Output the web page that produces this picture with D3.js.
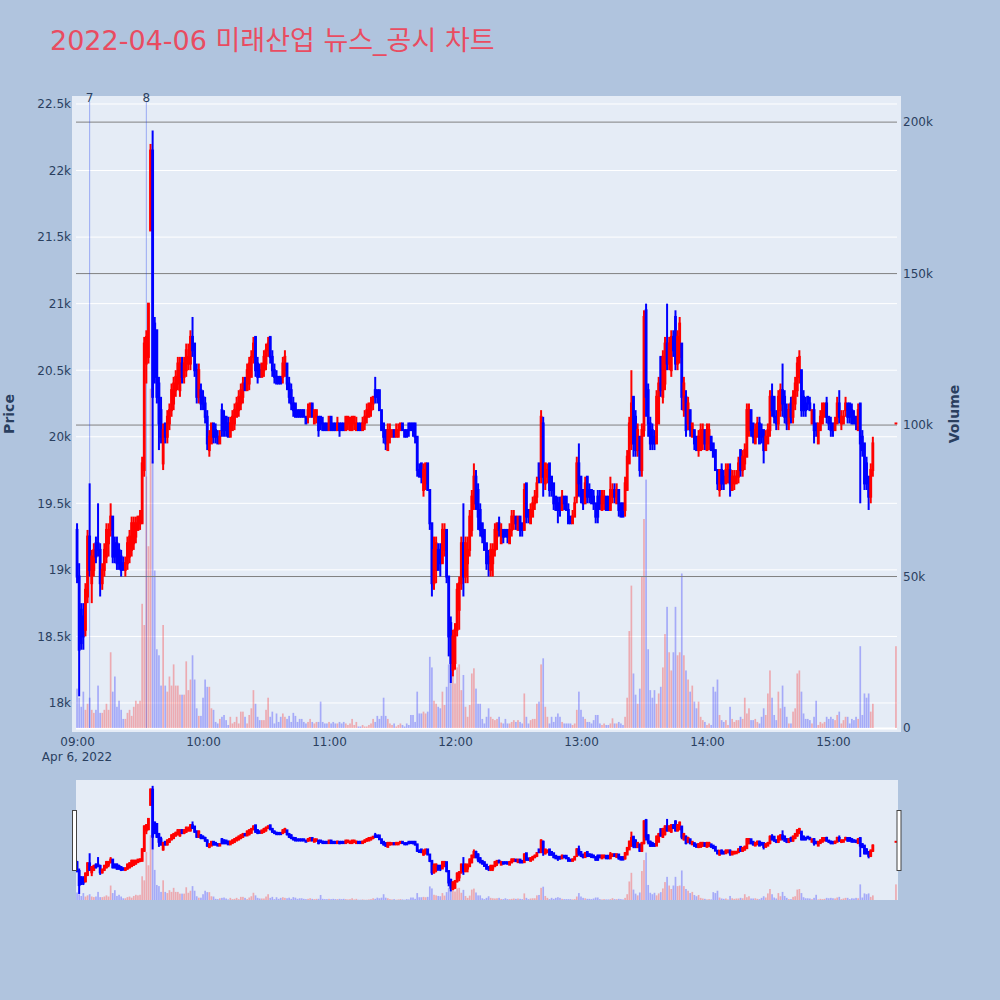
<!DOCTYPE html>
<html><head><meta charset="utf-8">
<script src="https://cdn.jsdelivr.net/npm/d3@7"></script>
<style>
body{margin:0;background:#B0C4DE;}
svg{display:block;font-family:"DejaVu Sans","Noto Sans CJK KR",Verdana,sans-serif;}
</style>
</head><body>
<svg id="chart" width="1000" height="1000"></svg>
<script>
const chartTitle = "2022-04-06 미래산업 뉴스_공시 차트";
// minute offsets from 09:00 (regular session 09:00-15:19, closing auction at 15:30)
const minuteOffsets = d3.range(380).concat([390]);
// [open, high, low, close] per minute
const ohlc = [
[19300,19350,18900,18950],[18950,19050,18050,18400],[18700,18750,18400,18450],[18650,18750,18400,18500],[18550,18900,18500,18850],
[18800,19300,18750,19250],[19250,19650,18950,19000],[18900,19150,18750,19100],[19000,19200,18950,19150],[19200,19250,19050,19100],
[19200,19500,19100,19150],[19150,19200,18800,18900],[18900,19050,18850,19000],[19000,19200,18950,19150],[19100,19350,19050,19300],
[19200,19350,19100,19300],[19300,19500,19250,19400],[19400,19400,19050,19100],[19200,19250,19050,19100],[19200,19250,19000,19050],
[19150,19200,19000,19050],[19100,19150,18950,19000],[19050,19100,19000,19000],[19000,19100,18950,19050],[19050,19250,19000,19200],
[19100,19300,19050,19250],[19150,19400,19100,19350],[19200,19400,19150,19350],[19250,19400,19200,19350],[19300,19400,19300,19400],
[19350,19450,19300,19400],[19350,19850,19350,19800],[19750,20750,19700,20700],[20550,20800,20400,20750],[20600,21000,20550,21000],
[21550,22200,21550,22150],[22150,22300,19800,20300],[20850,20900,20400,20450],[20800,20800,20250,20300],[20400,20450,19900,20100],
[20200,20300,19950,20000],[19800,20100,19750,20050],[20100,20100,19950,20000],[20000,20200,19950,20150],[20100,20250,20050,20200],
[20200,20400,20150,20350],[20250,20450,20200,20400],[20350,20500,20300,20450],[20400,20600,20350,20550],[20350,20600,20300,20550],
[20550,20600,20400,20450],[20450,20600,20400,20550],[20500,20700,20450,20650],[20550,20700,20500,20600],[20550,20800,20500,20750],
[20750,20900,20600,20650],[20700,20700,20450,20500],[20500,20550,20250,20300],[20300,20550,20250,20500],[20350,20400,20200,20250],
[20300,20350,20200,20250],[20250,20300,20100,20150],[20150,20200,19900,19950],[19900,20050,19850,20000],[19950,20100,19950,20100],
[20100,20100,19950,20000],[20050,20100,19950,20000],[20000,20050,19950,19950],[19950,20050,19950,20000],[20200,20250,20000,20050],
[20150,20200,20000,20050],[20150,20150,20000,20050],[20100,20150,20000,20000],[20000,20150,20000,20100],[20050,20200,20050,20150],
[20100,20250,20050,20200],[20150,20300,20150,20250],[20200,20350,20150,20300],[20250,20400,20200,20350],[20300,20450,20250,20400],
[20400,20450,20350,20350],[20350,20550,20350,20500],[20400,20600,20350,20550],[20450,20650,20450,20600],[20600,20750,20550,20700],
[20750,20750,20450,20500],[20550,20600,20400,20450],[20500,20550,20450,20450],[20450,20550,20450,20550],[20500,20650,20450,20600],
[20550,20700,20500,20650],[20650,20750,20600,20700],[20750,20750,20550,20600],[20600,20650,20450,20500],[20500,20550,20400,20450],
[20450,20500,20400,20400],[20450,20450,20400,20400],[20450,20450,20400,20400],[20450,20600,20400,20550],[20500,20650,20450,20600],
[20550,20550,20350,20400],[20400,20450,20250,20300],[20350,20400,20200,20250],[20250,20300,20150,20200],[20250,20250,20150,20150],
[20200,20200,20150,20150],[20200,20200,20150,20150],[20200,20200,20150,20150],[20200,20200,20150,20150],[20150,20150,20100,20100],
[20150,20250,20100,20200],[20150,20250,20150,20250],[20250,20250,20150,20150],[20100,20200,20100,20200],[20150,20200,20100,20200],
[20150,20150,20000,20050],[20150,20150,20050,20100],[20100,20150,20050,20050],[20100,20100,20050,20050],[20100,20100,20050,20050],
[20050,20150,20050,20150],[20150,20150,20050,20050],[20100,20100,20050,20050],[20100,20100,20050,20050],[20050,20150,20050,20100],
[20100,20100,20000,20050],[20100,20100,20050,20050],[20100,20100,20050,20050],[20050,20150,20050,20150],[20100,20150,20050,20150],
[20050,20150,20050,20100],[20050,20150,20050,20150],[20100,20150,20050,20150],[20050,20150,20050,20100],[20100,20100,20050,20050],
[20100,20100,20050,20050],[20050,20150,20050,20100],[20100,20200,20050,20150],[20150,20250,20100,20200],[20150,20250,20150,20250],
[20200,20300,20150,20250],[20250,20300,20200,20300],[20350,20450,20250,20300],[20350,20350,20250,20300],[20350,20350,20200,20200],
[20200,20200,20050,20050],[20100,20100,19950,20000],[20050,20050,19900,19950],[19900,20100,19900,20050],[20000,20100,19950,20050],
[20000,20050,20000,20050],[20050,20050,20000,20000],[20000,20100,20000,20050],[20000,20100,20000,20050],[20050,20100,20050,20100],
[20100,20100,20050,20050],[20050,20050,20000,20000],[20050,20050,20000,20000],[20100,20100,20000,20050],[20100,20100,20050,20050],
[20100,20100,20000,20050],[20100,20100,19950,20000],[20000,20000,19700,19750],[19750,19800,19700,19700],[19800,19800,19650,19700],
[19600,19800,19550,19750],[19650,19800,19600,19800],[19800,19800,19600,19600],[19600,19600,19300,19350],[19350,19350,18800,18900],
[18900,19250,18850,19150],[19000,19250,18900,19200],[19150,19200,19000,19000],[19150,19200,18950,19050],[19050,19350,19050,19300],
[19150,19350,19100,19300],[19300,19300,18900,18950],[18950,18950,18350,18500],[18600,18650,18150,18300],[18250,18550,18200,18500],
[18300,18600,18250,18550],[18550,18900,18500,18850],[18700,18950,18550,18900],[18900,19250,18850,19200],[19200,19500,18800,18950],
[18950,19250,18900,19200],[19050,19250,18900,19150],[19150,19450,19100,19400],[19300,19600,19250,19550],[19500,19800,19450,19700],
[19700,19750,19450,19500],[19600,19650,19300,19400],[19450,19500,19250,19300],[19350,19350,19200,19250],[19300,19300,19150,19150],
[19200,19200,19000,19050],[19100,19150,18950,19050],[19000,19200,18950,19150],[19050,19200,18950,19150],[19150,19350,19100,19300],
[19250,19350,19150,19350],[19350,19400,19250,19300],[19200,19350,19200,19300],[19300,19300,19200,19250],[19300,19300,19250,19250],
[19300,19300,19200,19250],[19200,19350,19200,19300],[19300,19450,19250,19400],[19350,19450,19300,19400],[19400,19400,19300,19350],
[19300,19400,19300,19400],[19400,19400,19250,19300],[19350,19350,19250,19300],[19300,19650,19300,19600],[19650,19650,19350,19400],
[19450,19450,19350,19400],[19350,19500,19350,19450],[19400,19550,19400,19500],[19500,19600,19450,19550],[19550,19700,19500,19650],
[19800,19800,19650,19700],[19700,20200,19650,20150],[20100,20150,19550,19700],[19650,19800,19600,19800],[19700,19800,19650,19750],
[19800,19800,19550,19600],[19700,19700,19550,19600],[19650,19650,19450,19500],[19550,19550,19450,19450],[19500,19550,19350,19450],
[19500,19550,19400,19450],[19450,19600,19450,19550],[19550,19550,19450,19500],[19550,19550,19450,19450],[19450,19500,19350,19350],
[19400,19400,19350,19350],[19350,19450,19350,19400],[19400,19550,19400,19500],[19550,19850,19500,19800],[19800,19950,19550,19650],
[19700,19700,19500,19550],[19600,19600,19450,19500],[19500,19700,19500,19650],[19700,19700,19500,19550],[19600,19650,19500,19550],
[19600,19600,19500,19500],[19550,19600,19450,19500],[19500,19500,19350,19400],[19550,19600,19350,19400],[19550,19600,19450,19500],
[19450,19600,19450,19550],[19500,19600,19450,19550],[19550,19550,19450,19450],[19550,19550,19450,19450],[19450,19700,19450,19600],
[19550,19650,19500,19600],[19600,19650,19500,19550],[19500,19650,19500,19600],[19600,19600,19400,19450],[19500,19500,19400,19400],
[19500,19500,19400,19400],[19450,19700,19400,19650],[19600,19900,19600,19850],[19800,20150,19800,20100],[19950,20500,19900,20250],
[20300,20300,19850,19950],[20150,20200,19850,19900],[19900,20100,19850,20050],[20000,20000,19700,19750],[19750,20100,19700,20050],
[20050,20950,20000,20900],[20950,21000,20150,20300],[20350,20400,20000,20100],[20100,20150,19900,19950],[20050,20100,19900,19950],
[20000,20050,19900,19950],[19950,20350,19950,20300],[20100,20450,20100,20400],[20600,20600,20300,20350],[20300,20650,20250,20600],
[20400,20750,20350,20700],[20700,21000,20500,20550],[20550,20750,20500,20700],[20500,20800,20450,20750],[20750,20800,20600,20650],
[20900,20950,20500,20550],[20550,20800,20500,20750],[20600,20900,20550,20850],[20700,20700,20200,20300],[20200,20450,20150,20400],
[20300,20350,20000,20050],[20100,20300,20050,20250],[20200,20200,20000,20050],[20000,20100,20000,20100],[20050,20050,19900,19950],
[20000,20000,19900,19900],[19900,20050,19850,20000],[19900,20100,19900,20050],[19950,20100,19900,20050],[20050,20050,19900,19950],
[19900,20100,19900,20050],[19950,20100,19900,20050],[20000,20000,19900,19900],[19950,19950,19850,19850],[19900,19900,19750,19750],
[19750,19750,19600,19650],[19600,19750,19550,19750],[19750,19800,19600,19650],[19700,19750,19600,19650],[19650,19800,19650,19750],
[19700,19800,19650,19750],[19750,19800,19550,19650],[19600,19750,19600,19700],[19650,19750,19600,19700],[19650,19750,19650,19700],
[19700,19850,19650,19800],[19900,19900,19700,19750],[19750,19900,19700,19850],[19800,19950,19750,19900],[19850,20250,19850,20200],
[20050,20250,20000,20200],[20200,20200,20000,20050],[20100,20100,19950,20000],[19950,20100,19950,20050],[20000,20150,20000,20100],
[20100,20150,19950,19950],[20050,20100,19950,20000],[20050,20050,19800,19900],[19900,20050,19900,20000],[19950,20100,19950,20050],
[20050,20350,20000,20300],[20300,20400,20150,20200],[20300,20300,20100,20150],[20150,20200,20050,20100],[20100,20350,20050,20300],
[20200,20400,20150,20350],[20350,20550,20150,20250],[20300,20350,20100,20150],[20200,20250,20050,20100],[20100,20250,20050,20200],
[20250,20300,20100,20150],[20150,20350,20100,20300],[20250,20450,20200,20400],[20350,20600,20300,20550],[20450,20650,20400,20600],
[20500,20500,20150,20200],[20300,20350,20150,20200],[20250,20300,20150,20200],[20300,20300,20200,20250],[20250,20300,20200,20200],
[20100,20200,20100,20200],[20200,20250,19950,20050],[20100,20100,20000,20050],[19950,20100,19950,20100],[20050,20200,20050,20150],
[20100,20250,20100,20250],[20150,20250,20150,20250],[20250,20300,20100,20150],[20150,20150,20050,20100],[20100,20150,20000,20050],
[20100,20100,20000,20050],[20050,20150,20050,20100],[20100,20300,20100,20250],[20250,20350,20100,20150],[20100,20200,20050,20150],
[20100,20200,20100,20150],[20200,20300,20150,20250],[20250,20250,20100,20150],[20250,20250,20100,20150],[20200,20250,20100,20100],
[20150,20200,20100,20100],[20150,20150,20050,20100],[20050,20250,20050,20200],[20250,20250,19500,19950],[20000,20050,19850,19900],
[19950,19950,19600,19650],[19800,19850,19600,19650],[19700,19700,19450,19550],[19550,19800,19500,19750],[19750,20000,19700,19950],
[20100,20100,20100,20100]
];
// volume per minute, thousands of shares
const volumeThousands = [
13,10,7,12,6,8,10,6,5,6, 14,5,5,6,8,6,25,12,17,7, 9,6,3,3,5,6,4,7,9,8,
9,41,34,83,60,112,88,52,26,24, 14,34,14,12,17,14,21,14,14,11, 11,11,22,12.5,16,24,16,6.5,4,4,
10,16,13.6,13.6,6.5,6,2,1.5,3,3.7, 4.3,2.6,1,3.7,1.5,2,3.7,1.5,5.4,5.4, 3.7,1.5,4.3,6.5,12.5,8,3.7,2.6,2.6,2.6,
6,10,3.7,5.4,1.5,4.8,2,3.7,4.8,3.7, 3,4,2,5,4,2,3,3,2,1.5, 2,3,2,1.5,2,2,8.7,2,1.5,1.5,
2,1.5,2,1.5,1.5,2,1.5,2,1.5,1, 1.5,3,1,2,0.5,0.5,1,0.5,0.5,1, 1.5,3,2,4,3,4,10,4,3,1.5,
1,1.5,0.5,1,1.5,1,0.5,1.5,1,4.3, 4.3,2,12,4.8,4.8,5.4,4.8,5.4,23.5,20, 9,8,7,6.5,12,7.6,13.6,21,21,17.5,
14.7,20,21,12.5,17.5,7,3.7,7.6,18,19.7, 13,8,8,3,1.5,3.7,6.5,3.7,3,2.6, 3,3.7,1.8,1.5,3,1.5,1.5,2,2.6,2,
2.6,2,1.5,11.4,3.7,1.5,2.6,3,3,8, 8.7,21,23,7,3.7,1.5,3.7,2,3.7,4.8, 3.7,2,1.5,1.5,1.5,1.5,1,1.5,6,12,
6,3.7,3,2,2,1.5,2.6,4.3,4.3,1.5, 1,1.5,1,1,1.5,3.2,1.5,1.5,2,1.5, 1,3.7,10,32,47,18,11,8,13,50,
69,82,26,12.5,10,12.5,8,11.4,13.6,20, 31,40,25,19,25,40,24,25,51,24, 19,16,12,14,8.7,6.5,8.7,3.7,2.6,2,
1,1.5,1,13.6,12,16,4.3,2.6,2,2.6, 1,7,3,2,2.6,2.6,3.7,3,10,4.8, 6.5,2.6,2.6,3,2,1.5,3.7,6.5,4.3,11.4,
19,10,4.3,2.6,12,6.5,14,7,3.7,1.5, 1.5,5.4,6.5,18,19,12,4.8,3,3,2.6, 1.5,3.7,9,1,2,1.5,2,3.7,3,3.7,
3,2.6,4.3,5.4,1.5,2.6,3.7,3.7,1.5,3, 2.6,3.7,3,27,4.3,11.4,10,11.4,5.4,8,
27
];
const priceTicks = [18000,18500,19000,19500,20000,20500,21000,21500,22000,22500];
const volumeTicks = [0,50000,100000,150000,200000];
const hourTicks = ["09:00","10:00","11:00","12:00","13:00","14:00","15:00"];
const eventLabels = ["7","8"];
const eventTimes = ["09:06","09:33"];
const axisTitles = {left:"Price", right:"Volume"};
const dateLabel = "Apr 6, 2022";

const INC = "#FF0000", DEC = "#0000FF";
const FONT_COLOR = "#2a3f5f";
const FONT = '"DejaVu Sans","Noto Sans CJK KR",Verdana,sans-serif';

const day = (hm, s=0) => { const [h,m] = hm.split(":").map(Number); return new Date(2022,3,6,h,m,s); };
const t0 = day("09:00");
const data = minuteOffsets.map((m,i)=>({
  t: new Date(t0.getTime()+m*60000),
  o: ohlc[i][0], h: ohlc[i][1], l: ohlc[i][2], c: ohlc[i][3],
  v: volumeThousands[i]*1000
}));

const svg = d3.select("#chart");
const P = {l:76, r:897, t:100, b:728};
const S = {t:780, b:900};

const x = d3.scaleTime().domain([day("08:59",30), day("15:30",30)]).range([P.l, P.r]);
const yP = d3.scaleLinear().domain([17812, 22530]).range([P.b, P.t]);
const yV = d3.scaleLinear().domain([0, 207300]).range([P.b, P.t]);
const yPs = yP.copy().range([S.b, S.t]);
const yVs = yV.copy().range([S.b, S.t]);

// title
svg.append("text").attr("x",50).attr("y",50).attr("font-size",27).attr("fill","#E94C61").text(chartTitle);

// plot background
svg.append("rect").attr("x",P.l-4).attr("y",P.t-4).attr("width",P.r-P.l+8).attr("height",P.b-P.t+8).attr("fill","#E5ECF6");

// price gridlines (white)
svg.append("g").selectAll("line").data(priceTicks).join("line")
  .attr("x1",P.l).attr("x2",P.r).attr("y1",d=>yP(d)).attr("y2",d=>yP(d))
  .attr("stroke","#fff").attr("stroke-width",1);

// volume zero line
svg.append("line").attr("x1",P.l).attr("x2",P.r).attr("y1",yV(0)+0.5).attr("y2",yV(0)+0.5).attr("stroke","#fff").attr("stroke-width",2);

function drawVolume(g, ys){
  g.selectAll("rect").data(data).join("rect")
    .attr("x",d=>x(d.t)-0.85).attr("width",1.7)
    .attr("y",d=>ys(d.v)).attr("height",d=>ys(0)-ys(d.v))
    .attr("fill",d=>d.c>=d.o?INC:DEC).attr("fill-opacity",0.28);
}
function drawCandles(g, ys){
  const c = g.selectAll("g").data(data).join("g").attr("fill",d=>d.c>=d.o?INC:DEC).attr("stroke",d=>d.c>=d.o?INC:DEC);
  c.append("line").attr("x1",d=>x(d.t)).attr("x2",d=>x(d.t)).attr("y1",d=>ys(d.h)).attr("y2",d=>ys(d.l)).attr("stroke-width",2);
  c.append("rect").attr("stroke","none")
    .attr("x",d=>x(d.t)-1.4).attr("width",2.8)
    .attr("y",d=>ys(Math.max(d.o,d.c))-1)
    .attr("height",d=>Math.abs(ys(d.o)-ys(d.c))+2);
}

// main volume bars
drawVolume(svg.append("g"), yV);

// volume gridlines (grey)
svg.append("g").selectAll("line").data(volumeTicks.filter(v=>v>0)).join("line")
  .attr("x1",P.l).attr("x2",P.r).attr("y1",d=>yV(d)).attr("y2",d=>yV(d))
  .attr("stroke","#808080").attr("stroke-width",1);

// event lines
const ev = svg.append("g");
eventTimes.forEach((tm,i)=>{
  const xx = x(day(tm));
  ev.append("line").attr("x1",xx).attr("x2",xx).attr("y1",P.t+2).attr("y2",P.b)
    .attr("stroke","rgba(30,60,240,0.38)").attr("stroke-width",1);
  ev.append("text").attr("x",xx).attr("y",P.t+1.5).attr("text-anchor","middle")
    .attr("font-size",12).attr("fill",FONT_COLOR).text(eventLabels[i]);
});

// candles
drawCandles(svg.append("g"), yP);

// axes
const axL = svg.append("g").attr("transform",`translate(${P.l},0)`)
  .call(d3.axisLeft(yP).tickValues(priceTicks).tickFormat(d3.format("~s")).tickSize(0).tickPadding(5));
const axR = svg.append("g").attr("transform",`translate(${P.r},0)`)
  .call(d3.axisRight(yV).tickValues(volumeTicks).tickFormat(d3.format("~s")).tickSize(0).tickPadding(6));
const axB = svg.append("g").attr("transform",`translate(0,${P.b})`)
  .call(d3.axisBottom(x).tickValues(hourTicks.map(h=>day(h))).tickFormat(d3.timeFormat("%H:%M")).tickSize(0).tickPadding(9));
[axL,axR,axB].forEach(a=>{
  a.attr("font-family",FONT).attr("font-size",12);
  a.select(".domain").remove();
  a.selectAll("text").attr("fill",FONT_COLOR);
});
svg.append("text").attr("x",x(day("09:00"))).attr("y",761).attr("text-anchor","middle")
  .attr("font-size",12).attr("fill",FONT_COLOR).text(dateLabel);

// axis titles
svg.append("text").attr("transform","translate(14,414) rotate(-90)").attr("text-anchor","middle")
  .attr("font-size",14).attr("font-weight","bold").attr("fill",FONT_COLOR).text(axisTitles.left);
svg.append("text").attr("transform","translate(959,414) rotate(-90)").attr("text-anchor","middle")
  .attr("font-size",14).attr("font-weight","bold").attr("fill",FONT_COLOR).text(axisTitles.right);

// range slider
svg.append("defs").append("clipPath").attr("id","sclip").append("rect")
  .attr("x",P.l).attr("y",S.t).attr("width",P.r-P.l+1).attr("height",S.b-S.t);
svg.append("rect").attr("x",P.l).attr("y",S.t).attr("width",P.r-P.l+1).attr("height",S.b-S.t).attr("fill","#E5ECF6");
const sg = svg.append("g").attr("clip-path","url(#sclip)");
drawVolume(sg.append("g"), yVs);
drawCandles(sg.append("g"), yPs);
[P.l-2, P.r+1.5].forEach(hx=>{
  svg.append("rect").attr("x",hx-1.5).attr("y",810.5).attr("width",4).attr("height",60)
    .attr("fill","#fff").attr("stroke","#444").attr("stroke-width",1);
});
</script>
</body></html>
